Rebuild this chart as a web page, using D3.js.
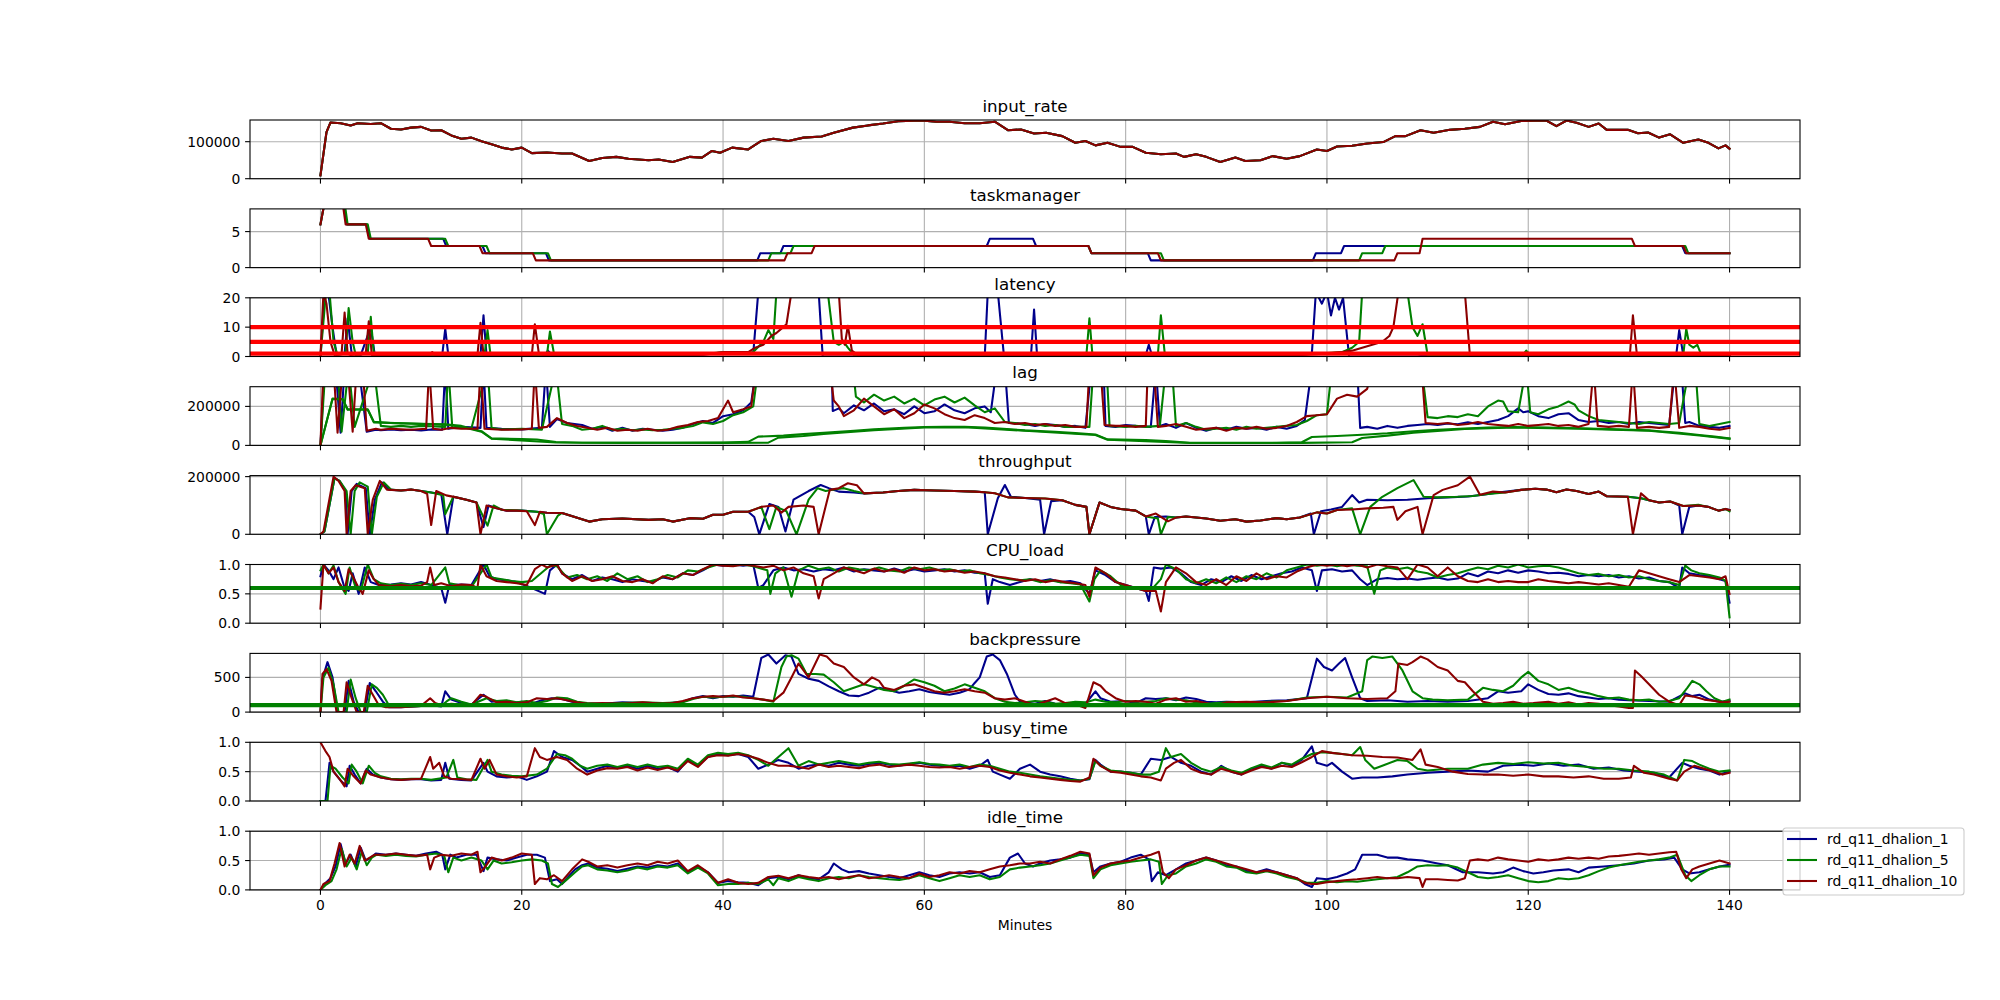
<!DOCTYPE html>
<html lang="en">
<head>
<meta charset="UTF-8">
<title>rd_q11 dhalion metrics</title>
<script src="https://d3js.org/d3.v7.min.js"></script>
<style>
  body { margin: 0; background: #fff; }
  svg { font-family: "DejaVu Sans", sans-serif; }
  .tick-label { font-size: 13.9px; fill: #000; }
  .title { font-size: 16.7px; fill: #000; text-anchor: middle; }
</style>
</head>
<body>
<div id="chart"></div>
<script>
// values: [minute, value]
const T = 400000; // off the top of the lag panel

const seriesNames = ["rd_q11_dhalion_1", "rd_q11_dhalion_5", "rd_q11_dhalion_10"];
const xTicks = [0, 20, 40, 60, 80, 100, 120, 140];

const inputRate = [[0,9000],[0.6,126000],[1,152000],[2,150000],[3,144000],[3.7,150000],[5,148000],[6,150000],[7,135000],[8,133000],[9,138000],[10,140000],[11,130000],[12,131000],[13,117000],[14,108000],[15,111000],[16,101000],[17,93000],[18,84000],[19,79000],[20,84000],[21,69000],[22.5,71000],[24,68000],[25,68000],[26.7,48000],[28,56000],[29.4,59000],[30.6,54000],[32.6,50000],[33.6,52000],[35,45000],[36.7,59000],[37.9,57000],[38.9,75000],[39.7,70000],[40.9,84000],[42.5,79000],[43.8,102000],[45,108000],[46.5,102000],[48,111000],[49.8,114000],[51,124000],[52.9,138000],[54.4,144000],[55.9,149000],[57.4,155000],[59,157000],[60,157000],[61.2,154000],[62.5,154000],[64,150000],[65.5,150000],[67,154000],[68.3,131000],[69.6,133000],[70.9,122000],[72.1,124000],[73.7,115000],[75,97000],[76,102000],[77,90000],[78.2,97000],[79.5,86000],[80.7,86000],[82,70000],[83.5,66000],[85,68000],[85.8,59000],[87,66000],[88,59000],[89.4,45000],[90.9,57000],[91.9,48000],[93.4,50000],[94.6,61000],[96,54000],[97.3,61000],[99,79000],[100,75000],[101,87000],[102.5,89000],[104,95000],[105.6,99000],[106.8,115000],[107.8,115000],[109.3,131000],[110.6,124000],[112.2,132000],[113.7,135000],[115.2,140000],[116.5,154000],[117.7,147000],[119.3,156000],[120.7,157000],[121.8,157000],[122.8,142000],[123.8,157000],[124.8,151000],[126,140000],[127,149000],[127.8,132000],[129.9,132000],[130.9,123000],[131.9,125000],[133,111000],[134.1,120000],[135.4,97000],[136.9,106000],[137.9,97000],[138.9,82000],[139.6,90000],[140,81000]];

const tmBlue = [[0,6],[0.4,9],[2.3,9],[2.6,6],[4.6,6],[4.9,4],[12.2,4],[12.5,3],[16.1,3],[16.4,2],[22.4,2],[22.7,1],[43.4,1],[43.7,2],[45.7,2],[46,3],[66.2,3],[66.5,4],[70.8,4],[71.1,3],[76.3,3],[76.6,2],[82.2,2],[82.5,1],[98.6,1],[98.9,2],[101.4,2],[101.7,3],[135.3,3],[135.6,2],[140,2]];
const tmGreen = [[0,6],[0.4,9],[2.4,9],[2.7,6],[4.7,6],[5,4],[12.4,4],[12.7,3],[16.5,3],[16.8,2],[22.6,2],[22.9,1],[44.5,1],[44.8,2],[46.7,2],[47,3],[76.3,3],[76.6,2],[83.5,2],[83.8,1],[103.2,1],[103.5,2],[105.5,2],[105.8,3],[135.6,3],[135.9,2],[140,2]];
const tmRed = [[0,6],[0.4,9],[2.2,9],[2.5,6],[4.5,6],[4.8,4],[10.7,4],[11,3],[15.8,3],[16.1,2],[21.1,2],[21.4,1],[46.1,1],[46.4,2],[48.8,2],[49.1,3],[76.3,3],[76.6,2],[83.2,2],[83.5,1],[106.7,1],[107,2],[109.2,2],[109.5,4],[130.3,4],[130.6,3],[135.4,3],[135.7,2],[140,2]];

const latBlue = [[0,0],[0.4,20],[0.7,24],[1.2,10],[1.6,0.5],[2.4,1],[2.7,13],[3.1,1],[4,0.5],[5,10],[5.4,0.5],[8,0.3],[11,0.5],[12.1,0.5],[12.4,9.5],[12.7,0.5],[15.9,0.5],[16.2,14],[16.5,0.5],[20,0.3],[22.3,0.5],[22.6,2],[23,0.5],[26,0.3],[30,0.4],[34,0.3],[38,0.6],[40.2,1.5],[42,1.5],[43,1],[43.5,22],[49.5,22],[49.9,0],[66,0],[66.3,22],[67.3,22],[67.9,0.5],[70.6,0.5],[70.9,16],[71.2,0.3],[76,0.3],[78,0.4],[82,0.5],[82.3,4],[82.6,0.5],[86,0.4],[90,0.5],[94,0.4],[97.5,0.5],[98.5,1],[98.9,22],[99.5,18],[100,22],[100.4,14],[100.8,20],[101.2,16],[101.6,20],[102.2,0],[109,0],[110,0.5],[115,0.4],[120,0.5],[125,0.4],[130,0.5],[134.7,0.5],[135,9],[135.4,0.5],[140,0.4]];
const latGreen = [[0,0],[0.5,20],[0.9,22],[1.3,5],[1.7,0.5],[2.5,1],[2.8,16.5],[3.2,5],[3.5,0.5],[4.7,1],[5,13.5],[5.3,1],[5.6,0.3],[8,0.5],[12,0.5],[12.5,1],[12.8,0.5],[16.3,0.5],[16.6,9],[16.9,0.5],[20,0.4],[22.5,0.5],[22.8,8.5],[23.2,1],[24,0.5],[28,0.6],[32,0.5],[36,0.6],[38,0.8],[40.2,1.5],[42,1.2],[43,1.5],[44,5],[44.5,9],[45,6],[45.3,22],[50.4,22],[51,5],[51.5,4],[52,5],[52.4,3],[53,0.5],[56,0.5],[60,0.7],[64,0.5],[68,0.6],[72,0.5],[76.1,0.5],[76.4,13],[76.7,0.5],[80,0.6],[83.2,0.5],[83.5,14],[83.9,0.5],[88,0.6],[92,0.5],[96,0.6],[100,1.2],[101.5,1.5],[102.5,3],[103.2,5],[103.5,22],[108,22],[108.5,10],[109,7],[109.5,11],[110,0.5],[113,0.5],[116,0.4],[119.5,0.6],[119.8,2],[120.2,0.6],[122,1],[125,0.5],[130,0.5],[135.4,0.5],[135.7,9.5],[136,4],[136.4,3],[136.8,4],[137.2,0.5],[140,0.4]];
const latRed = [[0,0],[0.3,22],[0.6,18],[1,5],[1.4,0.5],[2.1,1],[2.4,15],[2.7,1],[3,0.5],[4.5,1],[4.8,12],[5.1,0.5],[8,0.5],[10.9,0.5],[11.1,1.5],[11.4,0.5],[15.6,0.5],[15.9,11.5],[16.2,0.5],[21,0.5],[21.3,11],[21.7,1],[22.2,0.5],[26,0.6],[30,0.5],[34,0.6],[38,0.7],[40.2,1.5],[42.5,1.5],[43.2,3],[44,4],[44.8,7],[45.3,8],[45.8,9.5],[46.3,11],[46.8,22],[51.5,22],[51.8,6],[52.1,4],[52.4,10.5],[52.8,2],[53.4,0.5],[58,0.6],[62,0.5],[66,0.6],[70,0.5],[74,0.6],[78,0.5],[82,0.6],[86,0.5],[90,0.6],[94,0.5],[98,0.6],[100,1],[101.5,1.5],[102.5,2],[103.5,3],[104.5,4],[105.5,5],[106.2,7],[106.6,10],[107.1,22],[113.7,22],[114.2,0.5],[118,0.5],[122,0.6],[126,0.5],[130.1,0.6],[130.4,14],[130.8,0.5],[135,0.5],[140,0.4]];
const latencyLimits = [1, 5, 10];

const lagBlue = [[0,0],[0.4,T],[1.5,T],[2,65000],[2.4,T],[3.8,T],[4.6,70000],[5.5,80000],[6,78000],[7,82000],[8,78000],[9,80000],[10,76000],[11,82000],[12.1,80000],[12.4,T],[12.7,85000],[14,95000],[15.9,90000],[16.2,T],[16.5,90000],[18,85000],[20,82000],[22,90000],[22.4,T],[22.8,95000],[23.5,135000],[24.5,115000],[26,105000],[27,85000],[28,95000],[29,75000],[30,90000],[31,75000],[32,85000],[33,80000],[34,75000],[35,80000],[36,90000],[37,110000],[38,125000],[39,115000],[40,150000],[41,160000],[42,180000],[42.8,220000],[43.3,T],[50.8,T],[50.9,176000],[51.5,190000],[52,165000],[53,205000],[54,180000],[55,215000],[56,175000],[57,185000],[58,160000],[59,200000],[60,165000],[61,175000],[62,210000],[63,180000],[64,165000],[65,190000],[66,200000],[66.6,170000],[67.2,T],[68,T],[68.4,115000],[70,110000],[71,100000],[72,110000],[73,105000],[74,95000],[75,100000],[76,90000],[76.6,T],[77.8,T],[78,100000],[79,95000],[80,105000],[81,100000],[82.5,95000],[83,T],[83.4,100000],[84,110000],[85,90000],[86,115000],[87,90000],[88,75000],[89,90000],[90,80000],[91,95000],[92,85000],[93,90000],[94,80000],[95,95000],[96,85000],[97,100000],[97.8,130000],[98.5,T],[103,T],[103.3,90000],[104,95000],[105,85000],[106,100000],[107,90000],[108,100000],[109,105000],[110,110000],[111,105000],[112,112000],[113,108000],[114,118000],[115,110000],[116,120000],[117,130000],[118,150000],[119,190000],[119.5,170000],[120,175000],[121,150000],[122,140000],[123,160000],[124,165000],[125,130000],[126,120000],[127,125000],[128,115000],[129,120000],[130,110000],[131,120000],[132,115000],[133,110000],[134,105000],[134.6,T],[135.2,T],[135.6,115000],[136,120000],[137,100000],[138,95000],[139,90000],[140,100000]];
const lagGreen = [[0,0],[0.5,T],[1.7,T],[2.1,70000],[2.8,T],[3.4,95000],[5.3,T],[6,100000],[7,95000],[8,100000],[9,95000],[10,100000],[11,98000],[12.4,95000],[12.7,T],[13.1,90000],[15,88000],[16.6,T],[17,90000],[18,82000],[20,85000],[22,80000],[23.4,T],[24,110000],[25,100000],[26,80000],[27,85000],[28,100000],[29,80000],[30,85000],[31,78000],[32,82000],[33,78000],[34,80000],[35,85000],[36,90000],[37,100000],[38,118000],[39,110000],[40,125000],[41,155000],[42,170000],[43,200000],[43.5,T],[52.9,T],[53.2,250000],[54,220000],[55,260000],[56,230000],[57,250000],[58,215000],[59,240000],[60,205000],[61,235000],[62,250000],[63,220000],[64,245000],[65,205000],[66,170000],[67,190000],[68,120000],[69,115000],[70,105000],[71,110000],[72,100000],[73,105000],[74,95000],[75,95000],[76.4,95000],[76.8,T],[78.1,T],[78.4,100000],[80,95000],[81,100000],[82,95000],[83.4,100000],[84,T],[84.6,T],[85,100000],[86,115000],[87,95000],[88,80000],[89,85000],[90,90000],[91,80000],[92,95000],[93,85000],[94,90000],[95,95000],[96,100000],[97,105000],[98,125000],[99,155000],[100,160000],[100.5,T],[109.4,T],[110,145000],[111,140000],[112,150000],[113,145000],[114,160000],[115,150000],[116,200000],[117,230000],[117.5,225000],[118,175000],[119,170000],[119.8,T],[120.2,170000],[121,160000],[122,185000],[123,200000],[124,225000],[124.6,210000],[125,180000],[126,150000],[127,130000],[128,125000],[129,120000],[130,115000],[131,110000],[132,120000],[133,115000],[134,110000],[135,115000],[136,T],[136.6,T],[137,110000],[138,100000],[139,110000],[140,120000]];
const lagRed = [[0,0],[0.3,T],[1.3,T],[1.7,65000],[2.2,T],[2.7,T],[3.2,70000],[3.6,T],[4.2,T],[4.6,75000],[5.5,85000],[6,80000],[7,85000],[8,82000],[9,80000],[10.5,85000],[10.8,T],[11.2,85000],[12,80000],[13,90000],[14,85000],[15.6,85000],[15.9,T],[16.3,85000],[18,80000],[20,82000],[21,85000],[21.3,T],[21.7,90000],[22.5,95000],[23.5,140000],[24.5,115000],[25.5,100000],[26.5,90000],[27.5,80000],[28.5,90000],[29.5,75000],[30.5,80000],[31.5,75000],[32.5,85000],[33.5,75000],[34.5,80000],[35.5,95000],[36.5,105000],[37.5,120000],[38.5,125000],[39.5,140000],[40.5,230000],[41,170000],[42,185000],[42.8,200000],[43.3,T],[50.6,T],[51,230000],[51.5,200000],[52,150000],[53,180000],[54,240000],[55,200000],[56,160000],[57,185000],[58,140000],[59,165000],[60,210000],[61,190000],[62,160000],[63,140000],[64,130000],[65,155000],[66,140000],[67,115000],[68,120000],[69,110000],[70,115000],[71,105000],[72,110000],[73,100000],[74,105000],[75,95000],[76.1,95000],[76.4,T],[77.5,T],[77.9,105000],[79,100000],[80,100000],[81,95000],[82,100000],[82.2,T],[82.8,T],[83.2,95000],[84,100000],[85,110000],[86,95000],[87,80000],[88,85000],[89,90000],[90,75000],[91,90000],[92,85000],[93,95000],[94,85000],[95,90000],[96,100000],[97,120000],[98,150000],[99,155000],[100,160000],[101,240000],[102,260000],[103,250000],[104,290000],[104.5,T],[109.4,T],[109.8,115000],[111,110000],[112,115000],[113,105000],[114,110000],[115,120000],[116,110000],[117,105000],[118,100000],[119,110000],[120,100000],[121,105000],[122,110000],[123,100000],[124,105000],[125,95000],[126,110000],[126.5,T],[126.9,100000],[128,95000],[129,100000],[130,95000],[130.4,T],[130.8,90000],[132,95000],[133,90000],[134,95000],[134.5,T],[135,90000],[136,100000],[137,95000],[138,85000],[139,80000],[140,90000]];
const lagLowA = [[0,0],[0.6,120000],[1.2,240000],[2.2,238000],[2.7,185000],[4.7,185000],[5.3,121000],[7,115000],[10,111000],[12.4,108000],[14,100000],[16,73000],[17,36000],[20,32000],[21.5,30000],[23.4,17000],[26,14000],[30,13000],[35,14000],[40,15000],[42.5,18000],[43.5,45000],[46,50000],[48,58000],[50,65000],[53,75000],[55,82000],[58,90000],[60,94000],[62,96000],[64,95000],[66,92000],[70,77000],[73,70000],[75,63000],[77,56000],[78.2,31000],[82,28000],[84,22000],[86.4,14000],[90,13000],[95,14000],[97.5,16000],[98.5,43000],[101,48000],[104,56000],[106,62000],[108.6,73000],[111,80000],[113.7,87000],[116,91000],[118.7,94000],[121.8,92000],[125,88000],[128.9,82000],[132,77000],[133,73000],[135,65000],[137,53000],[138.5,45000],[140,36000]];
const lagLowB = [[0,0],[0.6,120000],[1.2,238000],[2.2,236000],[2.7,183000],[4.7,183000],[5.3,118000],[12.4,106000],[14,96000],[16,70000],[17,34000],[23.4,15000],[40,13000],[44.5,14000],[45.5,40000],[48,48000],[50,58000],[53,70000],[55,78000],[60,92000],[64,93000],[70,75000],[77,53000],[78.2,29000],[86.4,12000],[97.5,13000],[102.5,16000],[103.5,38000],[106,50000],[108.6,65000],[113.7,84000],[118.7,92000],[125,86000],[132,75000],[137,51000],[140,34000]];

const tpBlue = [[0,0],[0.4,10000],[1.4,195000],[1.9,185000],[2.5,150000],[2.7,0],[3.1,150000],[3.6,175000],[4.5,160000],[4.9,0],[5.4,120000],[6.1,180000],[6.8,155000],[8,152000],[9,155000],[10,150000],[11,145000],[12,140000],[12.6,0],[13.2,130000],[14.5,120000],[15.5,110000],[16.2,25000],[16.7,100000],[17.5,90000],[18.5,82000],[20,82000],[21.5,78000],[22.5,75000],[24,74000],[26.7,44000],[28,52000],[30,55000],[32.6,50000],[34,52000],[35,44000],[36.7,56000],[38,54000],[39,68000],[40,68000],[41,78000],[42.5,78000],[43.1,60000],[43.6,0],[44.6,105000],[45.5,95000],[46.2,10000],[47,120000],[48.5,150000],[49.7,171000],[50.5,160000],[51.5,148000],[53,145000],[54,142000],[55.9,145000],[57.4,150000],[59,154000],[61,152000],[63,150000],[65,148000],[66,146000],[66.3,0],[67.3,125000],[68,171000],[68.6,130000],[70,126000],[71.5,120000],[71.9,0],[72.6,115000],[73.7,118000],[75,102000],[76.1,95000],[76.4,0],[77.4,110000],[78.5,95000],[79.5,88000],[81,82000],[82,62000],[82.3,0],[82.9,60000],[84,62000],[85,58000],[86,62000],[88,55000],[89.4,47000],[90.9,52000],[92,44000],[93.4,48000],[95,56000],[96,52000],[97.3,58000],[98.4,72000],[98.7,0],[99.4,80000],[100.4,86000],[101.5,95000],[102.5,136000],[103.2,110000],[104,120000],[106,118000],[108,120000],[110,125000],[112,128000],[114,131000],[115.5,137000],[117,145000],[119.3,154000],[120.7,158000],[121.8,155000],[122.8,146000],[123.8,155000],[124.8,150000],[126,140000],[127,148000],[127.8,132000],[129.9,130000],[131.2,125000],[132,118000],[133,110000],[134.1,114000],[135,100000],[135.3,0],[136,95000],[136.9,100000],[137.9,95000],[138.9,82000],[139.6,88000],[140,84000]];
const tpGreen = [[0,0],[0.4,10000],[1.4,195000],[1.9,185000],[2.6,150000],[3,0],[3.4,150000],[3.9,180000],[4.7,165000],[5.1,0],[5.6,130000],[6.3,180000],[7,155000],[8,152000],[9,155000],[10,150000],[11,145000],[12.2,135000],[12.4,70000],[13.2,130000],[14.5,120000],[15.5,110000],[16.6,30000],[17.2,100000],[18,85000],[20,82000],[21.5,78000],[22.2,70000],[22.5,0],[23.6,65000],[24,74000],[26.7,44000],[28,52000],[30,55000],[32.6,50000],[34,52000],[35,44000],[36.7,56000],[38,54000],[39,68000],[40,68000],[41,78000],[42.5,78000],[43.8,95000],[44.6,18000],[45.3,95000],[46.3,80000],[47.3,0],[48.5,120000],[49.4,160000],[50.2,150000],[51,155000],[52,160000],[53,150000],[54,142000],[55.9,145000],[57.4,150000],[59,154000],[61,152000],[63,150000],[65,148000],[66,146000],[67,142000],[68.3,128000],[70,126000],[72,124000],[73.7,118000],[75,102000],[76.1,95000],[76.4,0],[77.4,110000],[78.5,95000],[79.5,88000],[81,82000],[82,62000],[83.2,55000],[83.5,0],[84.2,60000],[85,58000],[86,62000],[88,55000],[89.4,47000],[90.9,52000],[92,44000],[93.4,48000],[95,56000],[96,52000],[97.3,58000],[99,76000],[100,72000],[101,84000],[102.5,90000],[103.3,0],[104.3,95000],[105.5,130000],[107,160000],[108.6,188000],[109.6,130000],[111,128000],[113,130000],[114.5,133000],[116,140000],[117.7,145000],[119.3,154000],[120.7,158000],[121.8,155000],[122.8,146000],[123.8,155000],[124.8,150000],[126,140000],[127,148000],[127.8,132000],[129.9,130000],[131.2,125000],[132,118000],[133,110000],[134.1,114000],[135.4,98000],[136.9,102000],[137.9,95000],[138.9,82000],[139.6,88000],[140,80000]];
const tpRed = [[0,0],[0.3,10000],[1.3,200000],[1.8,185000],[2.4,150000],[2.6,0],[3,150000],[3.5,170000],[4.4,160000],[4.7,0],[5.2,120000],[5.9,185000],[6.6,155000],[8,152000],[9,155000],[10,150000],[10.6,140000],[11,32000],[11.5,150000],[12.5,135000],[13.5,128000],[14.5,120000],[15.5,110000],[15.9,0],[16.5,100000],[17.5,90000],[18.5,82000],[19.5,82000],[20.5,80000],[21.3,32000],[21.8,78000],[22.5,75000],[24,74000],[26.7,44000],[28,52000],[30,55000],[32.6,50000],[34,52000],[35,44000],[36.7,56000],[38,54000],[39,68000],[40,68000],[41,78000],[42.5,78000],[43.8,95000],[45,100000],[45.8,75000],[46.5,95000],[48,100000],[49,95000],[49.5,0],[50.6,154000],[51.5,160000],[52.4,177000],[53.3,170000],[54,142000],[55.9,145000],[57.4,150000],[59,154000],[61,152000],[63,150000],[65,148000],[66,146000],[67,142000],[68.3,128000],[70,126000],[72,124000],[73.7,118000],[75,102000],[76.1,95000],[76.4,0],[77.4,110000],[78.5,95000],[79.5,88000],[81,82000],[82,62000],[83,72000],[84.2,45000],[85,58000],[86,62000],[88,55000],[89.4,47000],[90.9,52000],[92,44000],[93.4,48000],[95,56000],[96,52000],[97.3,58000],[99,76000],[100,72000],[101,84000],[102.5,86000],[104,90000],[105.6,92000],[106.6,95000],[107,50000],[107.8,80000],[109,95000],[109.5,0],[110.6,136000],[111.5,154000],[113,170000],[114.2,200000],[115.2,137000],[116.5,148000],[117.7,145000],[119.3,154000],[120.7,158000],[121.8,155000],[122.8,146000],[123.8,155000],[124.8,150000],[126,140000],[127,148000],[127.8,132000],[129.9,130000],[130.4,0],[131.2,142000],[132,118000],[133,110000],[134.1,114000],[135.4,98000],[136.9,100000],[137.9,95000],[138.9,82000],[139.6,88000],[140,84000]];

const cpuBlue = [[0,0.8],[0.3,1],[0.8,0.9],[1.3,0.75],[1.8,0.95],[2.4,0.6],[2.8,0.55],[3.2,0.85],[3.8,0.5],[4.4,0.95],[5,0.7],[5.8,0.65],[7,0.66],[8,0.68],[9,0.66],[10,0.7],[11,0.65],[12,0.6],[12.4,0.35],[12.8,0.65],[14,0.66],[15,0.65],[16.2,1.0],[16.8,0.8],[17.5,0.75],[18.5,0.73],[19.5,0.7],[21,0.6],[22.3,0.5],[22.8,0.9],[23.5,1.0],[24,0.85],[25,0.75],[26,0.82],[27,0.72],[28,0.78],[29,0.75],[30,0.7],[31,0.75],[32,0.72],[33,0.7],[34,0.78],[35,0.75],[36,0.85],[37,0.82],[38,0.9],[39,1.0],[40,0.98],[41,1.0],[42,0.98],[43,1.0],[43.5,0.6],[44,0.65],[45,0.9],[46,0.95],[47,0.9],[48,0.92],[49,0.88],[50,0.92],[51,0.9],[52,0.95],[53,0.88],[54,0.92],[55,0.9],[56,0.88],[57,0.93],[58,0.88],[59,0.92],[60,0.88],[61,0.9],[62,0.92],[63,0.88],[64,0.9],[65,0.86],[66,0.85],[66.3,0.33],[66.8,0.75],[67.5,0.7],[68.5,0.65],[69.5,0.7],[70.5,0.75],[71.5,0.72],[72.5,0.75],[73.5,0.7],[74.5,0.72],[75.5,0.68],[76.4,0.5],[77,0.9],[78,0.82],[79,0.7],[80,0.65],[81,0.6],[82,0.55],[82.3,0.38],[82.8,0.95],[83.5,0.93],[84.5,0.95],[85.5,0.85],[86.5,0.7],[87.5,0.65],[88.5,0.75],[89.5,0.7],[90.5,0.8],[91.5,0.72],[92.5,0.82],[93.5,0.75],[94.5,0.8],[95.5,0.85],[96.5,0.88],[97.5,0.95],[98.5,0.9],[99,0.55],[99.5,0.9],[100.5,0.92],[101.5,0.88],[102.5,0.9],[103.3,0.75],[104,0.65],[105,0.75],[106,0.77],[107,0.75],[108,0.76],[109,0.74],[110,0.76],[111,0.78],[112,0.74],[113,0.76],[114,0.85],[115,0.8],[116,0.88],[117,0.85],[118,0.9],[119,0.86],[120,0.9],[121,0.88],[122,0.85],[123,0.86],[124,0.84],[125,0.8],[126,0.82],[127,0.8],[128,0.82],[129,0.78],[130,0.8],[131,0.76],[132,0.78],[133,0.72],[134,0.7],[135,0.6],[135.3,0.95],[136,0.85],[137,0.82],[138,0.8],[139,0.75],[139.6,0.72],[140,0.35]];
const cpuGreen = [[0,0.9],[0.3,1],[0.8,0.85],[1.3,0.98],[1.8,0.7],[2.5,0.5],[2.9,0.95],[3.5,0.6],[4,0.55],[4.7,1.0],[5.3,0.75],[6,0.68],[7,0.65],[8,0.67],[9,0.65],[10,0.68],[11,0.65],[12.4,0.95],[12.8,0.68],[14,0.64],[15,0.62],[16.5,1.0],[17,0.78],[18,0.75],[19,0.72],[20,0.7],[21,0.72],[22.8,0.98],[23.5,0.97],[24.5,0.78],[25.5,0.82],[26.5,0.75],[27.5,0.8],[28.5,0.72],[29.5,0.85],[30.5,0.75],[31.5,0.8],[32.5,0.7],[33.5,0.75],[34.5,0.82],[35.5,0.78],[36.5,0.9],[37.5,0.88],[38.5,0.95],[39.5,1.0],[41,0.98],[42,1.0],[43,0.97],[44.4,0.9],[44.7,0.5],[45.2,0.85],[46,0.95],[46.8,0.45],[47.5,0.9],[48.5,0.98],[49.5,0.92],[50.5,0.95],[51.5,0.88],[52.5,0.95],[53.5,0.92],[54.5,0.9],[55.5,0.95],[56.5,0.9],[57.5,0.88],[58.5,0.95],[59.5,0.92],[60.5,0.95],[61.5,0.9],[62.5,0.92],[63.5,0.88],[64.5,0.9],[65.5,0.85],[66.5,0.82],[67.5,0.78],[68.5,0.75],[69.5,0.73],[70.5,0.75],[71.5,0.7],[72.5,0.73],[73.5,0.7],[74.5,0.68],[75.5,0.66],[76.4,0.37],[76.9,0.75],[77.5,0.9],[78.5,0.8],[79.5,0.65],[80.5,0.6],[81.5,0.58],[82.5,0.56],[83.5,0.75],[84,1.0],[85,0.92],[86,0.75],[87,0.68],[88,0.75],[89,0.68],[90,0.78],[91,0.7],[92,0.8],[93,0.75],[94,0.85],[95,0.78],[96,0.9],[97,0.95],[98,1.0],[99,0.98],[100,1.0],[101,0.97],[102,1.0],[103,0.98],[104,0.97],[104.7,0.5],[105.3,0.9],[106,0.95],[107,0.92],[108,0.95],[109,0.88],[110,0.85],[111,0.78],[112,0.82],[113,0.85],[114,0.9],[115,0.95],[116,0.92],[117,0.98],[118,0.95],[119,1.0],[120,0.95],[121,0.97],[122,0.98],[123,0.95],[124,0.9],[125,0.85],[126,0.82],[127,0.84],[128,0.8],[129,0.82],[130,0.78],[131,0.8],[132,0.75],[133,0.72],[134,0.7],[135,0.65],[135.6,0.98],[136.2,0.9],[137,0.85],[138,0.82],[139,0.78],[139.6,0.72],[140,0.1]];
const cpuRed = [[0,0.25],[0.3,1],[0.8,0.85],[1.3,0.95],[1.8,0.7],[2.4,0.55],[2.8,0.92],[3.2,0.8],[3.8,0.6],[4.2,0.5],[4.8,0.9],[5.3,0.75],[5.8,0.65],[7,0.63],[8,0.65],[9,0.63],[10,0.64],[10.6,0.7],[10.9,0.95],[11.3,0.65],[12,0.68],[13,0.63],[14,0.66],[15,0.65],[15.6,0.6],[15.9,1.0],[16.5,0.8],[17.5,0.72],[18.5,0.7],[19.5,0.68],[20.5,0.65],[21.3,0.92],[22,1.0],[22.5,0.95],[23.5,1.0],[24,0.85],[25,0.72],[26,0.8],[27,0.72],[28,0.75],[29,0.8],[30,0.72],[31,0.7],[32,0.75],[33,0.68],[34,0.8],[35,0.75],[36,0.85],[37,0.82],[38,0.92],[39,1.0],[40,0.98],[41,0.97],[42,1.0],[43,0.98],[44,0.95],[45,0.98],[46,0.9],[47,0.95],[48,0.85],[49,0.8],[49.5,0.42],[50,0.75],[51,0.85],[52,0.95],[53,0.9],[54,0.85],[55,0.93],[56,0.88],[57,0.92],[58,0.86],[59,0.95],[60,0.9],[61,0.92],[62,0.88],[63,0.9],[64,0.86],[65,0.88],[66,0.85],[67,0.8],[68,0.78],[69,0.75],[70,0.72],[71,0.75],[72,0.7],[73,0.73],[74,0.7],[75,0.68],[76,0.65],[76.4,0.45],[77,0.95],[78,0.85],[79,0.7],[80,0.65],[81,0.6],[82,0.55],[83,0.55],[83.5,0.2],[84,0.7],[85,0.95],[86,0.85],[87,0.7],[88,0.65],[89,0.75],[90,0.65],[91,0.8],[92,0.72],[93,0.85],[94,0.75],[95,0.8],[96,0.78],[97,0.88],[98,0.95],[99,1.0],[100,0.98],[101,1.0],[102,0.97],[103,1.0],[104,0.95],[105,1.0],[106,0.97],[107,0.95],[108,0.75],[109,1.0],[110,0.95],[111,0.8],[112,0.95],[113,0.8],[114,0.72],[115,0.7],[116,0.75],[117,0.7],[118,0.72],[119,0.7],[120,0.7],[121,0.75],[122,0.72],[123,0.7],[124,0.68],[125,0.7],[126,0.68],[127,0.66],[128,0.68],[129,0.65],[130,0.62],[131,0.9],[132,0.85],[133,0.8],[134,0.75],[135,0.7],[136,0.82],[137,0.8],[138,0.78],[139,0.75],[139.6,0.8],[140,0.5]];
const cpuTarget = [0.6];

const bpBlue = [[0,0],[0.2,480],[0.7,720],[1.2,500],[1.7,0],[2.4,0],[2.8,450],[3.3,150],[3.8,0],[4.4,0],[4.9,420],[5.5,300],[6.2,150],[6.8,70],[8,70],[10,90],[11,100],[12,80],[12.4,300],[13,180],[14,130],[15,110],[16.2,250],[17,150],[18,160],[19,130],[20,150],[21,120],[22,170],[23,200],[24,190],[25,150],[26,120],[28,120],[30,140],[32,130],[34,120],[36,150],[37,200],[38,230],[39,200],[40,230],[41,220],[42,240],[43,220],[43.8,780],[44.5,830],[45.3,700],[46.2,820],[46.8,800],[47.5,550],[48.5,480],[49.5,450],[50.5,370],[51.5,300],[52.5,240],[53.5,230],[54.5,280],[55.5,350],[56.5,320],[57.5,280],[58.5,300],[59.5,330],[60.5,290],[61.5,270],[62.5,250],[63.5,280],[64.5,330],[65,420],[65.5,500],[66.2,800],[66.8,830],[67.5,750],[68.2,550],[69,250],[69.5,150],[71,120],[72,160],[73,120],[74,100],[75,130],[76,120],[77,300],[77.5,200],[78.5,150],[80,160],[81,130],[82,200],[83,190],[84,200],[85,170],[86,210],[87,190],[88,150],[89,140],[90,150],[92,140],[94,160],[96,170],[98,200],[98.7,600],[99,770],[99.7,650],[100.5,600],[101.2,700],[101.8,780],[102.5,500],[103.3,200],[104,160],[106,170],[108,150],[110,160],[112,150],[114,160],[116,200],[117,300],[118,280],[119.3,300],[120,400],[121,320],[122,260],[123,250],[124,270],[125,230],[126,210],[127,190],[128,200],[129,180],[130,170],[132,160],[134,150],[135.6,270],[136.3,230],[137,250],[138,180],[139,150],[140,160]];
const bpGreen = [[0,0],[0.3,500],[0.8,640],[1.3,400],[1.8,0],[2.6,0],[3,470],[3.5,200],[4,0],[4.6,0],[5.1,400],[5.6,350],[6.2,250],[6.8,100],[8,80],[10,90],[11,100],[12,90],[12.5,150],[13,200],[14,150],[15,110],[16.5,200],[17.5,160],[18.5,170],[19.5,140],[20.5,160],[21.5,130],[22.5,160],[23.5,210],[24.5,200],[25.5,150],[26.5,130],[28,120],[30,130],[32,140],[34,130],[36,140],[37,190],[38,220],[39,210],[40,220],[41,230],[42,220],[43,200],[44,180],[45,150],[45.8,650],[46.3,800],[46.8,820],[47.5,770],[48.3,550],[49.2,550],[50,540],[51,430],[52,300],[53,350],[54,400],[55,360],[56,320],[57,300],[58,380],[59,470],[60,430],[61,380],[62,300],[63,340],[64,400],[65,350],[66,300],[67,200],[68,150],[69,130],[70,140],[71,160],[72,150],[73,120],[74,130],[75,150],[76,140],[77,180],[78,150],[79,140],[80,160],[81,150],[82,150],[83,160],[84,200],[85,180],[86,170],[87,140],[88,120],[89,130],[90,140],[92,130],[94,150],[96,160],[98,210],[100,220],[102,210],[103.5,300],[104,750],[104.5,800],[105.5,780],[106.5,800],[107.5,600],[108.5,300],[109.5,200],[110.5,180],[112,170],[114,180],[115.5,350],[116.5,320],[117.5,300],[118.5,380],[119.3,500],[120,580],[121,450],[122,400],[123,320],[124,350],[125,300],[126,270],[127,230],[128,200],[129,210],[130,180],[131,170],[132,180],[133,150],[134,160],[135,200],[135.8,350],[136.3,450],[137,400],[137.7,300],[138.5,200],[139.3,150],[140,180]];
const bpRed = [[0,0],[0.2,550],[0.6,620],[1.1,450],[1.6,0],[2.3,0],[2.6,430],[3.1,200],[3.6,0],[4.3,0],[4.7,380],[5.2,250],[5.8,100],[6.5,70],[8,70],[10,90],[10.9,200],[11.4,130],[12,100],[13,120],[14,110],[15,100],[15.9,250],[16.5,220],[17.5,140],[18.5,150],[19.5,130],[20.5,140],[21.5,200],[22.5,190],[23.5,200],[24.5,170],[25.5,140],[26.5,120],[28,130],[30,120],[32,140],[34,120],[35,130],[36,160],[37,200],[38,220],[39,230],[40,220],[41,240],[42,210],[43,200],[44,180],[45,160],[46,280],[46.8,500],[47.5,700],[48,600],[48.5,500],[49.6,830],[50.3,800],[51,700],[52,650],[53,500],[54,400],[54.8,500],[55.5,450],[56,350],[57,320],[58,380],[59,400],[60,350],[61,300],[62,280],[63,300],[64,330],[65,300],[66,280],[67,200],[68,180],[69,200],[70,150],[71,100],[72,150],[73,200],[74,130],[75,110],[75.6,80],[76,60],[76.8,430],[77.5,380],[78,300],[79,200],[80,150],[81,160],[82,150],[83,120],[84,180],[85,200],[86,150],[87,160],[88,130],[89,100],[90,140],[92,150],[94,140],[96,160],[98,200],[100,220],[102,200],[104,190],[106,200],[106.8,300],[107.1,700],[108,680],[108.5,720],[109.3,800],[110,760],[111,650],[112,600],[113,450],[113.7,430],[114.5,300],[115.5,150],[116.5,120],[117.5,130],[118.5,150],[119.5,120],[120.5,130],[122,150],[123,120],[124,140],[125,110],[126,130],[127,120],[128,100],[129,80],[130,60],[130.4,60],[130.6,600],[131.2,520],[132,400],[133,250],[134,150],[135,100],[135.6,240],[136.5,220],[137.5,180],[138.5,160],[139.3,140],[140,150]];
const bpTarget = [100];

const busyBlue = [[0,0],[0.5,0],[0.9,0.65],[1.3,0.5],[2,0.35],[2.6,0.25],[2.9,0.6],[3.4,0.45],[4,0.3],[4.6,0.55],[5.2,0.45],[6,0.4],[7,0.37],[8,0.36],[9,0.37],[10,0.37],[11,0.35],[12,0.36],[12.4,0.65],[12.8,0.38],[14,0.36],[15,0.35],[16.2,0.65],[16.6,0.5],[17.5,0.42],[18.5,0.4],[19.5,0.42],[20.5,0.36],[21.5,0.42],[22.5,0.5],[23.2,0.85],[24,0.75],[25,0.7],[25.8,0.6],[26.5,0.5],[27.5,0.55],[28.5,0.6],[29.5,0.56],[30.5,0.6],[31.5,0.55],[32.5,0.6],[33.5,0.55],[34.5,0.58],[35.5,0.5],[36.5,0.7],[37.5,0.6],[38.5,0.75],[39.5,0.8],[40.5,0.78],[41.5,0.8],[42.5,0.75],[43.5,0.55],[44.5,0.62],[45.5,0.7],[46.5,0.65],[47.5,0.55],[48.5,0.6],[49.5,0.62],[50.5,0.6],[51.5,0.65],[52.5,0.62],[53.5,0.6],[54.5,0.63],[55.5,0.65],[56.5,0.62],[57.5,0.6],[58.5,0.63],[59.5,0.65],[60.5,0.62],[61.5,0.6],[62.5,0.58],[63.5,0.6],[64.5,0.55],[65.5,0.6],[66.3,0.7],[66.8,0.5],[67.5,0.45],[68.5,0.38],[69.5,0.55],[70.5,0.62],[71.5,0.5],[72.5,0.45],[73.5,0.42],[74.5,0.38],[75.5,0.35],[76.4,0.37],[77,0.7],[77.5,0.62],[78.5,0.5],[79.5,0.5],[80.5,0.48],[81.5,0.45],[82.5,0.72],[83.5,0.7],[84.5,0.75],[85.5,0.65],[86.5,0.6],[87.5,0.5],[88.5,0.45],[89.5,0.6],[90.5,0.5],[91.5,0.45],[92.5,0.55],[93.5,0.6],[94.5,0.55],[95.5,0.65],[96.5,0.6],[97.5,0.7],[98.5,0.93],[99,0.65],[100,0.6],[100.5,0.65],[101.5,0.5],[102.5,0.38],[103.5,0.4],[105,0.4],[106.5,0.42],[108,0.45],[110,0.48],[112,0.5],[114,0.52],[116,0.5],[117.5,0.6],[119,0.62],[120.5,0.6],[122,0.64],[123.5,0.6],[125,0.62],[126.5,0.55],[128,0.57],[129.5,0.52],[131,0.5],[132.5,0.48],[134,0.4],[135.3,0.65],[136,0.6],[137,0.55],[138,0.52],[139,0.45],[140,0.5]];
const busyGreen = [[0,0],[0.7,0],[1,0.6],[1.5,0.55],[2.2,0.4],[2.8,0.3],[3.1,0.62],[3.6,0.5],[4.2,0.3],[4.8,0.6],[5.4,0.48],[6,0.42],[7,0.38],[8,0.37],[9,0.38],[10,0.38],[11,0.36],[12.5,0.4],[13.2,0.7],[13.6,0.4],[14.5,0.37],[15.5,0.36],[16.6,0.7],[17,0.5],[18,0.45],[19,0.43],[20,0.42],[21.5,0.45],[22.5,0.55],[23.5,0.8],[24.3,0.78],[25,0.72],[25.8,0.6],[26.5,0.55],[27.5,0.6],[28.5,0.62],[29.5,0.58],[30.5,0.62],[31.5,0.58],[32.5,0.62],[33.5,0.58],[34.5,0.6],[35.5,0.55],[36.5,0.72],[37.5,0.62],[38.5,0.78],[39.5,0.82],[40.5,0.8],[41.5,0.82],[42.5,0.78],[43.5,0.7],[44.5,0.6],[45.5,0.75],[46.5,0.9],[47.5,0.6],[48.5,0.68],[49.5,0.62],[50.5,0.65],[51.5,0.68],[52.5,0.65],[53.5,0.62],[54.5,0.65],[55.5,0.67],[56.5,0.63],[57.5,0.62],[58.5,0.64],[59.5,0.66],[60.5,0.63],[61.5,0.62],[62.5,0.6],[63.5,0.62],[64.5,0.58],[65.5,0.62],[66.5,0.6],[67.5,0.55],[68.5,0.5],[69.5,0.48],[70.5,0.45],[71.5,0.42],[72.5,0.4],[73.5,0.38],[74.5,0.36],[75.5,0.35],[76.4,0.38],[77,0.68],[77.5,0.6],[78.5,0.52],[79.5,0.5],[80.5,0.48],[81.5,0.45],[82.5,0.45],[83.3,0.5],[84,0.9],[84.5,0.75],[85.5,0.8],[86.5,0.65],[87.5,0.55],[88.5,0.5],[89.5,0.58],[90.5,0.52],[91.5,0.48],[92.5,0.56],[93.5,0.62],[94.5,0.57],[95.5,0.65],[96.5,0.62],[97.5,0.72],[98.5,0.8],[99.5,0.83],[100.5,0.82],[101.5,0.8],[102.5,0.78],[103.3,0.92],[103.8,0.7],[104.7,0.55],[105.5,0.6],[107,0.7],[108,0.68],[109,0.55],[110,0.52],[112,0.55],[114,0.55],[115.5,0.62],[117,0.65],[118.5,0.63],[120,0.66],[121.5,0.64],[123,0.65],[124.5,0.6],[126,0.58],[127.5,0.55],[129,0.55],[130.5,0.52],[132,0.5],[133.5,0.45],[134.8,0.35],[135.5,0.7],[136.3,0.68],[137,0.62],[138,0.55],[139,0.5],[140,0.52]];
const busyRed = [[0,1.0],[0.5,0.85],[0.9,0.75],[1.3,0.5],[2,0.35],[2.4,0.25],[2.7,0.55],[3.3,0.42],[4,0.3],[4.5,0.52],[5,0.45],[6,0.4],[7,0.37],[8,0.36],[9,0.37],[10,0.38],[10.9,0.75],[11.2,0.55],[11.8,0.65],[12.3,0.42],[13,0.38],[14,0.37],[15,0.36],[15.9,0.72],[16.3,0.55],[16.8,0.7],[17.5,0.45],[18.5,0.42],[19.5,0.4],[20.5,0.42],[21.3,0.9],[21.8,0.75],[22.5,0.7],[23.5,0.75],[24.5,0.7],[25.5,0.55],[26.5,0.45],[27.5,0.52],[28.5,0.56],[29.5,0.55],[30.5,0.58],[31.5,0.52],[32.5,0.57],[33.5,0.53],[34.5,0.57],[35.5,0.52],[36.5,0.68],[37.5,0.58],[38.5,0.75],[39.5,0.78],[40.5,0.77],[41.5,0.8],[42.5,0.77],[43.5,0.72],[44.5,0.65],[45.5,0.6],[46.5,0.6],[47.5,0.58],[48.5,0.55],[49.5,0.62],[50.5,0.58],[51.5,0.6],[52.5,0.58],[53.5,0.56],[54.5,0.6],[55.5,0.62],[56.5,0.58],[57.5,0.6],[58.5,0.62],[59.5,0.6],[60.5,0.58],[61.5,0.57],[62.5,0.58],[63.5,0.55],[64.5,0.58],[65.5,0.6],[66.5,0.58],[67.5,0.52],[68.5,0.48],[69.5,0.45],[70.5,0.42],[71.5,0.4],[72.5,0.38],[73.5,0.36],[74.5,0.34],[75.5,0.33],[76.4,0.4],[76.8,0.72],[77.5,0.6],[78.5,0.5],[79.5,0.48],[80.5,0.45],[81.5,0.42],[82.5,0.4],[83.5,0.35],[84,0.55],[84.8,0.65],[85.5,0.7],[86.5,0.55],[87.5,0.48],[88.5,0.45],[89.5,0.55],[90.5,0.5],[91.5,0.45],[92.5,0.52],[93.5,0.58],[94.5,0.55],[95.5,0.6],[96.5,0.58],[97.5,0.66],[98.5,0.75],[99.5,0.85],[100.5,0.82],[101.5,0.8],[102.5,0.78],[104,0.77],[105.5,0.75],[107,0.74],[108.5,0.7],[109.3,0.88],[109.8,0.62],[111,0.58],[112.5,0.5],[114,0.46],[115.5,0.45],[117,0.45],[118.5,0.43],[120,0.45],[121.5,0.42],[123,0.42],[124.5,0.4],[126,0.42],[127.5,0.38],[129,0.38],[130.2,0.4],[130.5,0.6],[131.5,0.48],[132.5,0.45],[134,0.38],[134.8,0.35],[135.5,0.5],[136.5,0.6],[137.5,0.55],[138.5,0.5],[139.3,0.45],[140,0.48]];

const idleBlue = [[0,0],[0.4,0.1],[1,0.2],[1.5,0.4],[2,0.78],[2.5,0.45],[3,0.6],[3.5,0.4],[4,0.72],[4.5,0.5],[5,0.55],[5.5,0.62],[6.5,0.6],[7.5,0.62],[8.5,0.6],[9.5,0.58],[10.5,0.62],[11.5,0.65],[12.1,0.6],[12.4,0.35],[12.9,0.6],[13.5,0.55],[14.5,0.6],[15.5,0.6],[16.2,0.32],[16.6,0.55],[17.5,0.52],[18.5,0.5],[19.5,0.55],[20.5,0.6],[21.5,0.6],[22.3,0.55],[22.8,0.15],[23.5,0.18],[24,0.1],[24.5,0.2],[25.3,0.35],[26,0.42],[26.6,0.45],[27.5,0.38],[28.5,0.36],[29.5,0.32],[30.5,0.36],[31.5,0.4],[32.5,0.38],[33.5,0.42],[34.5,0.4],[35.5,0.45],[36.5,0.3],[37.5,0.4],[38.5,0.3],[39.5,0.12],[40.5,0.15],[41.5,0.13],[42.5,0.12],[43.5,0.08],[44.5,0.2],[45.5,0.22],[46.5,0.18],[47.5,0.25],[48.5,0.2],[49.5,0.18],[50.5,0.3],[51,0.45],[51.8,0.35],[52.5,0.3],[53.5,0.32],[54.5,0.28],[55.5,0.25],[56.5,0.22],[57.5,0.2],[58.5,0.25],[59.5,0.3],[60.5,0.25],[61.5,0.22],[62.5,0.28],[63.5,0.3],[64.5,0.28],[65.5,0.3],[66.5,0.22],[67.5,0.25],[68.5,0.55],[69.3,0.62],[70,0.45],[70.8,0.4],[71.5,0.45],[72.5,0.5],[73.5,0.52],[74.5,0.55],[75.5,0.62],[76.4,0.6],[76.8,0.3],[77.5,0.4],[78.5,0.45],[79.5,0.48],[80.5,0.55],[81.5,0.6],[82.3,0.52],[82.6,0.15],[83.2,0.3],[84,0.25],[85,0.35],[86,0.45],[87,0.5],[88,0.55],[89,0.5],[90,0.42],[91,0.4],[92,0.32],[93,0.3],[94,0.35],[95,0.3],[96,0.25],[97,0.2],[97.8,0.1],[98.5,0.05],[99,0.2],[100,0.18],[101,0.22],[102,0.28],[102.8,0.35],[103.5,0.6],[105,0.6],[106,0.55],[107,0.55],[108,0.52],[109.5,0.5],[111,0.45],[112,0.42],[113.5,0.3],[115,0.3],[116.5,0.28],[117.5,0.3],[118.5,0.38],[119.5,0.32],[120.5,0.28],[121.5,0.3],[122.5,0.33],[124,0.35],[125,0.3],[126,0.38],[127.5,0.4],[129,0.42],[130.5,0.45],[132,0.5],[133.5,0.52],[134.5,0.55],[135.3,0.35],[136,0.28],[137,0.3],[138,0.35],[139,0.4],[140,0.43]];
const idleGreen = [[0,0],[0.5,0.08],[1.1,0.15],[1.6,0.35],[2.1,0.7],[2.6,0.4],[3.1,0.55],[3.6,0.35],[4.1,0.65],[4.6,0.42],[5.1,0.55],[5.6,0.6],[6.5,0.58],[7.5,0.6],[8.5,0.58],[9.5,0.57],[10.5,0.6],[11.5,0.62],[12.3,0.58],[12.7,0.3],[13.2,0.55],[14,0.5],[15,0.55],[16,0.5],[16.6,0.35],[17.2,0.5],[18,0.45],[19,0.47],[20,0.5],[21,0.52],[22,0.5],[22.6,0.45],[23,0.1],[23.6,0.05],[24.3,0.15],[25.3,0.3],[26,0.4],[26.6,0.42],[27.5,0.35],[28.5,0.33],[29.5,0.3],[30.5,0.33],[31.5,0.38],[32.5,0.35],[33.5,0.4],[34.5,0.38],[35.5,0.42],[36.5,0.28],[37.5,0.38],[38.5,0.28],[39.5,0.08],[40.5,0.1],[41.5,0.1],[42.5,0.12],[43.5,0.1],[44.5,0.18],[45,0.08],[45.5,0.2],[46.5,0.15],[47.5,0.22],[48.5,0.18],[49.5,0.15],[50.5,0.2],[51.5,0.22],[52.5,0.2],[53.5,0.25],[54.5,0.22],[55.5,0.2],[56.5,0.18],[57.5,0.17],[58.5,0.2],[59.5,0.25],[60.5,0.2],[61.5,0.15],[62.5,0.2],[63.5,0.25],[64.5,0.22],[65.5,0.25],[66.5,0.18],[67.5,0.22],[68.5,0.35],[69.5,0.38],[70.5,0.4],[71.5,0.42],[72.5,0.45],[73.5,0.5],[74.5,0.55],[75.5,0.6],[76.4,0.58],[76.8,0.2],[77.5,0.35],[78.5,0.42],[79.5,0.45],[80.5,0.48],[81.5,0.5],[82.5,0.52],[83.3,0.48],[83.6,0.1],[84.2,0.25],[85,0.28],[86,0.4],[87,0.45],[88,0.52],[89,0.48],[90,0.4],[91,0.38],[92,0.3],[93,0.28],[94,0.32],[95,0.28],[96,0.22],[97,0.18],[98,0.12],[99,0.12],[100,0.15],[101,0.13],[102,0.15],[103,0.14],[104,0.16],[105,0.18],[106,0.2],[107,0.22],[108,0.3],[109,0.4],[110,0.42],[111,0.41],[112,0.42],[113,0.38],[114,0.3],[115,0.22],[116,0.2],[117,0.22],[118,0.25],[119,0.2],[120,0.15],[121,0.13],[122,0.15],[123,0.2],[124,0.18],[125,0.2],[126,0.25],[127,0.32],[128,0.38],[129,0.42],[130,0.45],[131,0.48],[132,0.5],[133,0.52],[134,0.55],[134.8,0.6],[135.6,0.25],[136.2,0.15],[137,0.25],[138,0.35],[139,0.4],[140,0.4]];
const idleRed = [[0,0],[0.3,0.1],[0.9,0.15],[1.4,0.45],[1.9,0.8],[2.4,0.4],[2.9,0.6],[3.4,0.45],[3.9,0.75],[4.4,0.5],[4.9,0.55],[5.4,0.6],[6.5,0.6],[7.5,0.62],[8.5,0.6],[9.5,0.58],[10.6,0.6],[10.9,0.35],[11.3,0.55],[12,0.6],[13,0.58],[14,0.62],[15,0.6],[15.6,0.65],[15.9,0.3],[16.4,0.4],[17,0.55],[18,0.5],[19,0.55],[20,0.62],[21,0.6],[21.3,0.1],[21.8,0.2],[22.5,0.18],[23.2,0.25],[24,0.15],[25,0.35],[26,0.52],[26.6,0.48],[27.5,0.4],[28.5,0.42],[29.5,0.38],[30.5,0.42],[31.5,0.45],[32.5,0.42],[33.5,0.48],[34.5,0.45],[35.5,0.5],[36.5,0.32],[37.5,0.42],[38.5,0.3],[39.5,0.12],[40.5,0.18],[41.5,0.12],[42.5,0.1],[43.5,0.12],[44.5,0.22],[45.5,0.24],[46.5,0.2],[47.5,0.25],[48.5,0.22],[49.5,0.2],[50.5,0.22],[51.5,0.18],[52.5,0.22],[53.5,0.25],[54.5,0.2],[55.5,0.22],[56.5,0.25],[57.5,0.22],[58.5,0.2],[59.5,0.28],[60.5,0.22],[61.5,0.25],[62.5,0.3],[63.5,0.28],[64.5,0.32],[65.5,0.3],[66.5,0.35],[67.5,0.4],[68.5,0.42],[69.5,0.45],[70.5,0.45],[71.5,0.48],[72.5,0.45],[73.5,0.52],[74.5,0.58],[75.5,0.65],[76.4,0.62],[76.8,0.25],[77.5,0.38],[78.5,0.45],[79.5,0.48],[80.5,0.5],[81.5,0.55],[82.5,0.6],[83.3,0.65],[83.7,0.3],[84.3,0.2],[85,0.35],[86,0.42],[87,0.5],[88,0.55],[89,0.5],[90,0.45],[91,0.4],[92,0.35],[93,0.3],[94,0.33],[95,0.3],[96,0.25],[97,0.2],[97.8,0.12],[98.5,0.1],[99,0.1],[100,0.13],[101,0.15],[102,0.17],[103,0.18],[104,0.2],[105,0.22],[106,0.2],[107,0.2],[108,0.22],[109.2,0.2],[109.5,0.05],[109.8,0.18],[111,0.18],[112,0.17],[113,0.16],[113.7,0.2],[114.2,0.5],[115,0.52],[116,0.5],[117,0.55],[118,0.52],[119,0.5],[120,0.48],[121,0.52],[122,0.5],[123,0.52],[124,0.55],[125,0.53],[126,0.55],[127,0.53],[128,0.57],[129,0.58],[130,0.6],[131,0.62],[132,0.6],[133,0.62],[134,0.64],[134.7,0.65],[135.2,0.35],[135.7,0.2],[136.3,0.35],[137,0.4],[138,0.45],[139,0.5],[140,0.45]];

// ---- layout ----
const W = 2000, H = 1000;
const left = 250, right = 1800, top0 = 120, axH = 58.7, pitch = 88.9;
const blue = "#00008b", green = "#008000", red = "#8b0000";
const fmtInt = d3.format("d"), fmt1 = d3.format(".1f");

const panels = [
  {title: "input_rate", ymax: 158600, ticks: [0, 100000], fmt: fmtInt,
   lines: [[inputRate, blue], [inputRate, green], [inputRate, red]], hlines: []},
  {title: "taskmanager", ymax: 8.15, ticks: [0, 5], fmt: fmtInt,
   lines: [[tmBlue, blue], [tmGreen, green], [tmRed, red]], hlines: []},
  {title: "latency", ymax: 20, ticks: [0, 10, 20], fmt: fmtInt,
   lines: [[latBlue, blue], [latGreen, green], [latRed, red]], hlines: latencyLimits.map(v => [v, "#ff0000"])},
  {title: "lag", ymax: 301000, ticks: [0, 200000], fmt: fmtInt,
   lines: [[lagBlue, blue], [lagLowA, green], [lagLowB, green], [lagGreen, green], [lagRed, red]], hlines: []},
  {title: "throughput", ymax: 203500, ticks: [0, 200000], fmt: fmtInt,
   lines: [[tpBlue, blue], [tpGreen, green], [tpRed, red]], hlines: []},
  {title: "CPU_load", ymax: 1, ticks: [0, 0.5, 1], fmt: fmt1,
   lines: [[cpuBlue, blue], [cpuGreen, green], [cpuRed, red]], hlines: cpuTarget.map(v => [v, green])},
  {title: "backpressure", ymax: 846, ticks: [0, 500], fmt: fmtInt,
   lines: [[bpBlue, blue], [bpGreen, green], [bpRed, red]], hlines: bpTarget.map(v => [v, green])},
  {title: "busy_time", ymax: 1, ticks: [0, 0.5, 1], fmt: fmt1,
   lines: [[busyBlue, blue], [busyGreen, green], [busyRed, red]], hlines: []},
  {title: "idle_time", ymax: 1, ticks: [0, 0.5, 1], fmt: fmt1,
   lines: [[idleBlue, blue], [idleGreen, green], [idleRed, red]], hlines: []}
];

const svg = d3.select("#chart").append("svg")
  .attr("width", W).attr("height", H);
svg.append("rect").attr("width", W).attr("height", H).attr("fill", "#fff");

const x = d3.scaleLinear().domain([-7, 147]).range([left, right]);

panels.forEach((p, i) => {
  const top = top0 + i * pitch, bottom = top + axH;
  const y = d3.scaleLinear().domain([0, p.ymax]).range([bottom, top]);
  const g = svg.append("g");

  g.append("clipPath").attr("id", "clip" + i)
    .append("rect").attr("x", left).attr("y", top).attr("width", right - left).attr("height", axH);

  // grid
  g.selectAll(".gx").data(xTicks).join("line")
    .attr("x1", d => x(d)).attr("x2", d => x(d)).attr("y1", top).attr("y2", bottom)
    .attr("stroke", "#b0b0b0").attr("stroke-width", 1.1);
  g.selectAll(".gy").data(p.ticks).join("line")
    .attr("x1", left).attr("x2", right).attr("y1", d => y(d)).attr("y2", d => y(d))
    .attr("stroke", "#b0b0b0").attr("stroke-width", 1.1);

  const plot = g.append("g").attr("clip-path", `url(#clip${i})`);
  const line = d3.line().x(d => x(d[0])).y(d => y(d[1]));
  p.lines.forEach(([data, color]) => {
    plot.append("path").datum(data).attr("d", line)
      .attr("fill", "none").attr("stroke", color).attr("stroke-width", 2.08)
      .attr("stroke-linejoin", "round").attr("stroke-linecap", "square");
  });
  p.hlines.forEach(([v, color]) => {
    plot.append("line").attr("x1", left).attr("x2", right)
      .attr("y1", y(v)).attr("y2", y(v))
      .attr("stroke", color).attr("stroke-width", 4.17);
  });

  // frame
  g.append("rect").attr("x", left).attr("y", top).attr("width", right - left).attr("height", axH)
    .attr("fill", "none").attr("stroke", "#000").attr("stroke-width", 1.1);

  // y ticks
  p.ticks.forEach(t => {
    g.append("line").attr("x1", left - 4.9).attr("x2", left).attr("y1", y(t)).attr("y2", y(t))
      .attr("stroke", "#000").attr("stroke-width", 1.1);
    g.append("text").attr("class", "tick-label")
      .attr("x", left - 9.7).attr("y", y(t)).attr("dy", "0.36em")
      .attr("text-anchor", "end").text(p.fmt(t));
  });
  // x ticks
  xTicks.forEach(t => {
    g.append("line").attr("x1", x(t)).attr("x2", x(t)).attr("y1", bottom).attr("y2", bottom + 4.9)
      .attr("stroke", "#000").attr("stroke-width", 1.1);
    if (i === panels.length - 1) {
      g.append("text").attr("class", "tick-label")
        .attr("x", x(t)).attr("y", bottom + 9.7).attr("dy", "0.76em")
        .attr("text-anchor", "middle").text(t);
    }
  });

  g.append("text").attr("class", "title")
    .attr("x", (left + right) / 2).attr("y", top - 8.3).text(p.title);
});

svg.append("text").attr("class", "tick-label")
  .attr("x", (left + right) / 2).attr("y", 930).attr("text-anchor", "middle").text("Minutes");

// legend
const lg = svg.append("g").attr("transform", "translate(1783,828)");
lg.append("rect").attr("width", 181).attr("height", 67).attr("rx", 3)
  .attr("fill", "#fff").attr("fill-opacity", 0.8)
  .attr("stroke", "#cccccc").attr("stroke-width", 1.1);
[blue, green, red].forEach((c, k) => {
  const yy = 11 + k * 21;
  lg.append("line").attr("x1", 4).attr("x2", 34).attr("y1", yy).attr("y2", yy)
    .attr("stroke", c).attr("stroke-width", 2.08);
  lg.append("text").attr("class", "tick-label").attr("x", 44).attr("y", yy).attr("dy", "0.36em")
    .text(seriesNames[k]);
});
</script>
</body>
</html>
